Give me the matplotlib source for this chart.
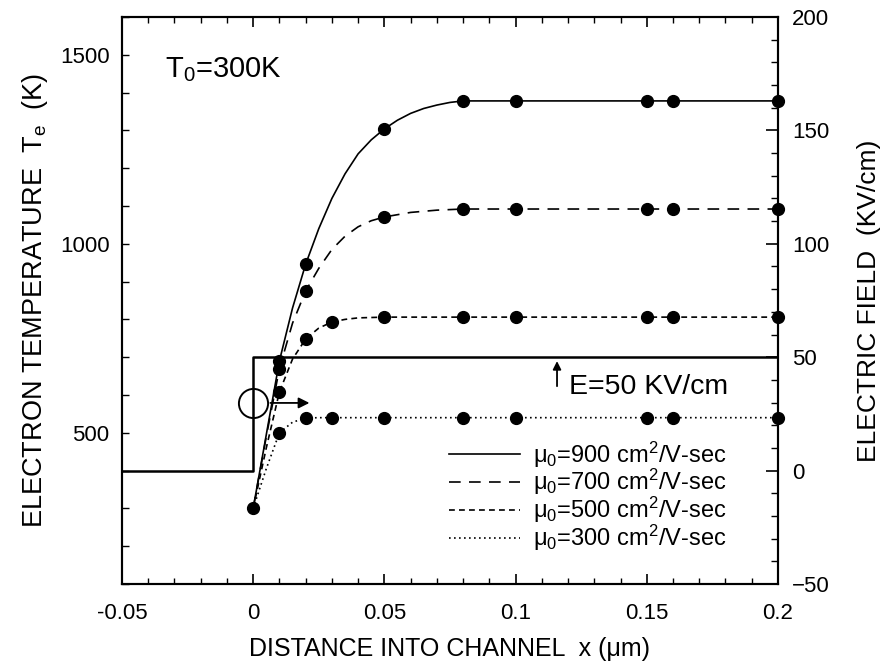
import numpy as np
import matplotlib
matplotlib.use("Agg")
import matplotlib.pyplot as plt
from matplotlib.lines import Line2D
from matplotlib.ticker import MultipleLocator, FixedLocator

plt.rcParams['font.family'] = ['Liberation Sans', 'DejaVu Sans']
plt.rcParams['mathtext.fontset'] = 'custom'
plt.rcParams['mathtext.rm'] = 'Liberation Sans'
plt.rcParams['mathtext.it'] = 'Liberation Sans:italic'

# electron temperature curves (K)
x_900 = [0, 0.005, 0.01, 0.015, 0.02, 0.025, 0.03, 0.035, 0.04, 0.045, 0.05,
         0.055, 0.06, 0.065, 0.07, 0.075, 0.08, 0.2]
t_900 = [300, 495, 690, 830, 946, 1040, 1120, 1185, 1238, 1275, 1304,
         1327, 1345, 1358, 1367, 1374, 1378, 1378]
x_700 = [0, 0.005, 0.01, 0.015, 0.02, 0.025, 0.03, 0.035, 0.04, 0.045, 0.05,
         0.06, 0.07, 0.08, 0.2]
t_700 = [300, 490, 670, 790, 875, 935, 985, 1020, 1045, 1061, 1071,
         1083, 1089, 1092, 1092]
x_500 = [0, 0.005, 0.01, 0.015, 0.02, 0.025, 0.03, 0.035, 0.04, 0.05, 0.2]
t_500 = [300, 460, 608, 695, 748, 777, 793, 800, 804, 806, 806]
x_300 = [0, 0.005, 0.01, 0.015, 0.02, 0.025, 0.2]
t_300 = [300, 405, 500, 528, 539, 540, 540]

# simulated points
xd_900 = [0, 0.01, 0.02, 0.05, 0.08, 0.1, 0.15, 0.16, 0.2]
td_900 = [300, 690, 946, 1304, 1378, 1378, 1378, 1378, 1378]
xd_700 = [0.01, 0.02, 0.05, 0.08, 0.1, 0.15, 0.16, 0.2]
td_700 = [670, 875, 1071, 1092, 1092, 1092, 1092, 1092]
xd_500 = [0.01, 0.02, 0.03, 0.05, 0.08, 0.1, 0.15, 0.16, 0.2]
td_500 = [608, 748, 793, 806, 806, 806, 806, 806, 806]
xd_300 = [0.01, 0.02, 0.03, 0.05, 0.08, 0.1, 0.15, 0.16, 0.2]
td_300 = [500, 539, 540, 540, 540, 540, 540, 540, 540]

# electric field step (KV/cm)
x_field = [-0.05, 0, 0, 0.2]
e_field = [0, 0, 50, 50]

labels = ['\u03bc$_0$=900 cm$^2$/V-sec', '\u03bc$_0$=700 cm$^2$/V-sec',
          '\u03bc$_0$=500 cm$^2$/V-sec', '\u03bc$_0$=300 cm$^2$/V-sec']

fig = plt.figure(figsize=(8.89, 6.64), dpi=100)
ax = fig.add_axes([0.1372, 0.1205, 0.7379, 0.8539])
ax2 = ax.twinx()

lw = 1.2
styles = ['-', (0, (7, 5)), (0, (3.5, 2.5)), (0, (1, 2))]
curves = [(x_900, t_900), (x_700, t_700), (x_500, t_500), (x_300, t_300)]
dots = [(xd_900, td_900), (xd_700, td_700), (xd_500, td_500), (xd_300, td_300)]
for (xc, tc), ls in zip(curves, styles):
    ax.plot(xc, tc, color='k', lw=lw, linestyle=ls)
for xd, td in dots:
    ax.plot(xd, td, 'o', color='k', ms=8.5, clip_on=False, zorder=5)

ax2.plot(x_field, e_field, color='k', lw=1.8)

# circle + arrow marking which axis the field uses
ax.plot([0], [579], 'o', mfc='none', mec='k', ms=21, mew=1.4)
ax.annotate('', xy=(0.0225, 579), xytext=(0.0055, 579),
            arrowprops=dict(arrowstyle='-|>', color='k', lw=1.3, mutation_scale=16))

ax2.annotate('', xy=(0.1158, 49.5), xytext=(0.1158, 36),
             arrowprops=dict(arrowstyle='-|>', color='k', lw=1.3, mutation_scale=12))
ax2.text(0.1205, 37, 'E=50 KV/cm', fontsize=20.5, va='center', ha='left')

ax.text(-0.0335, 1460, 'T$_0$=300K', fontsize=21, va='center', ha='left')

handles = [Line2D([], [], color='k', lw=lw, linestyle=ls) for ls in styles]
ax.legend(handles, labels, loc='upper left', bbox_to_anchor=(0.499, 0.255),
          frameon=False, fontsize=17, handlelength=3.0, handletextpad=0.55,
          labelspacing=-0.1, borderpad=0, borderaxespad=0)

ax.set_xlim(-0.05, 0.2)
ax.set_ylim(100, 1600)
ax2.set_ylim(-50, 200)

ax.xaxis.set_major_locator(FixedLocator([-0.05, 0, 0.05, 0.1, 0.15, 0.2]))
ax.set_xticklabels(['-0.05', '0', '0.05', '0.1', '0.15', '0.2'])
ax.xaxis.set_minor_locator(MultipleLocator(0.01))
ax.yaxis.set_major_locator(FixedLocator([500, 1000, 1500]))
ax.yaxis.set_minor_locator(MultipleLocator(100))
ax2.yaxis.set_major_locator(MultipleLocator(50))
ax2.yaxis.set_minor_locator(MultipleLocator(10))

ax.tick_params(axis='x', which='both', direction='in', top=True, labelsize=16, pad=14)
ax.tick_params(axis='x', which='major', length=7, width=1.2)
ax.tick_params(axis='x', which='minor', length=4, width=1.0)
ax.tick_params(axis='y', which='both', direction='in', right=False, labelsize=16,
               length=5, width=1.0, pad=9)
ax2.tick_params(axis='y', which='both', direction='in', labelsize=16, pad=10)
ax2.tick_params(axis='y', which='major', length=9, width=1.2)
ax2.tick_params(axis='y', which='minor', length=5, width=1.0)

for sp in ax.spines.values():
    sp.set_linewidth(1.5)
for sp in ax2.spines.values():
    sp.set_linewidth(1.5)

ax.set_xlabel('DISTANCE INTO CHANNEL  x (\u03bcm)', fontsize=18, labelpad=9)
ax.set_ylabel('ELECTRON TEMPERATURE  T$_\\mathrm{e}$  (K)', fontsize=19.5, labelpad=7)
ax2.set_ylabel('ELECTRIC FIELD  (KV/cm)', fontsize=19, labelpad=20)

fig.savefig('out.png', dpi=100)
